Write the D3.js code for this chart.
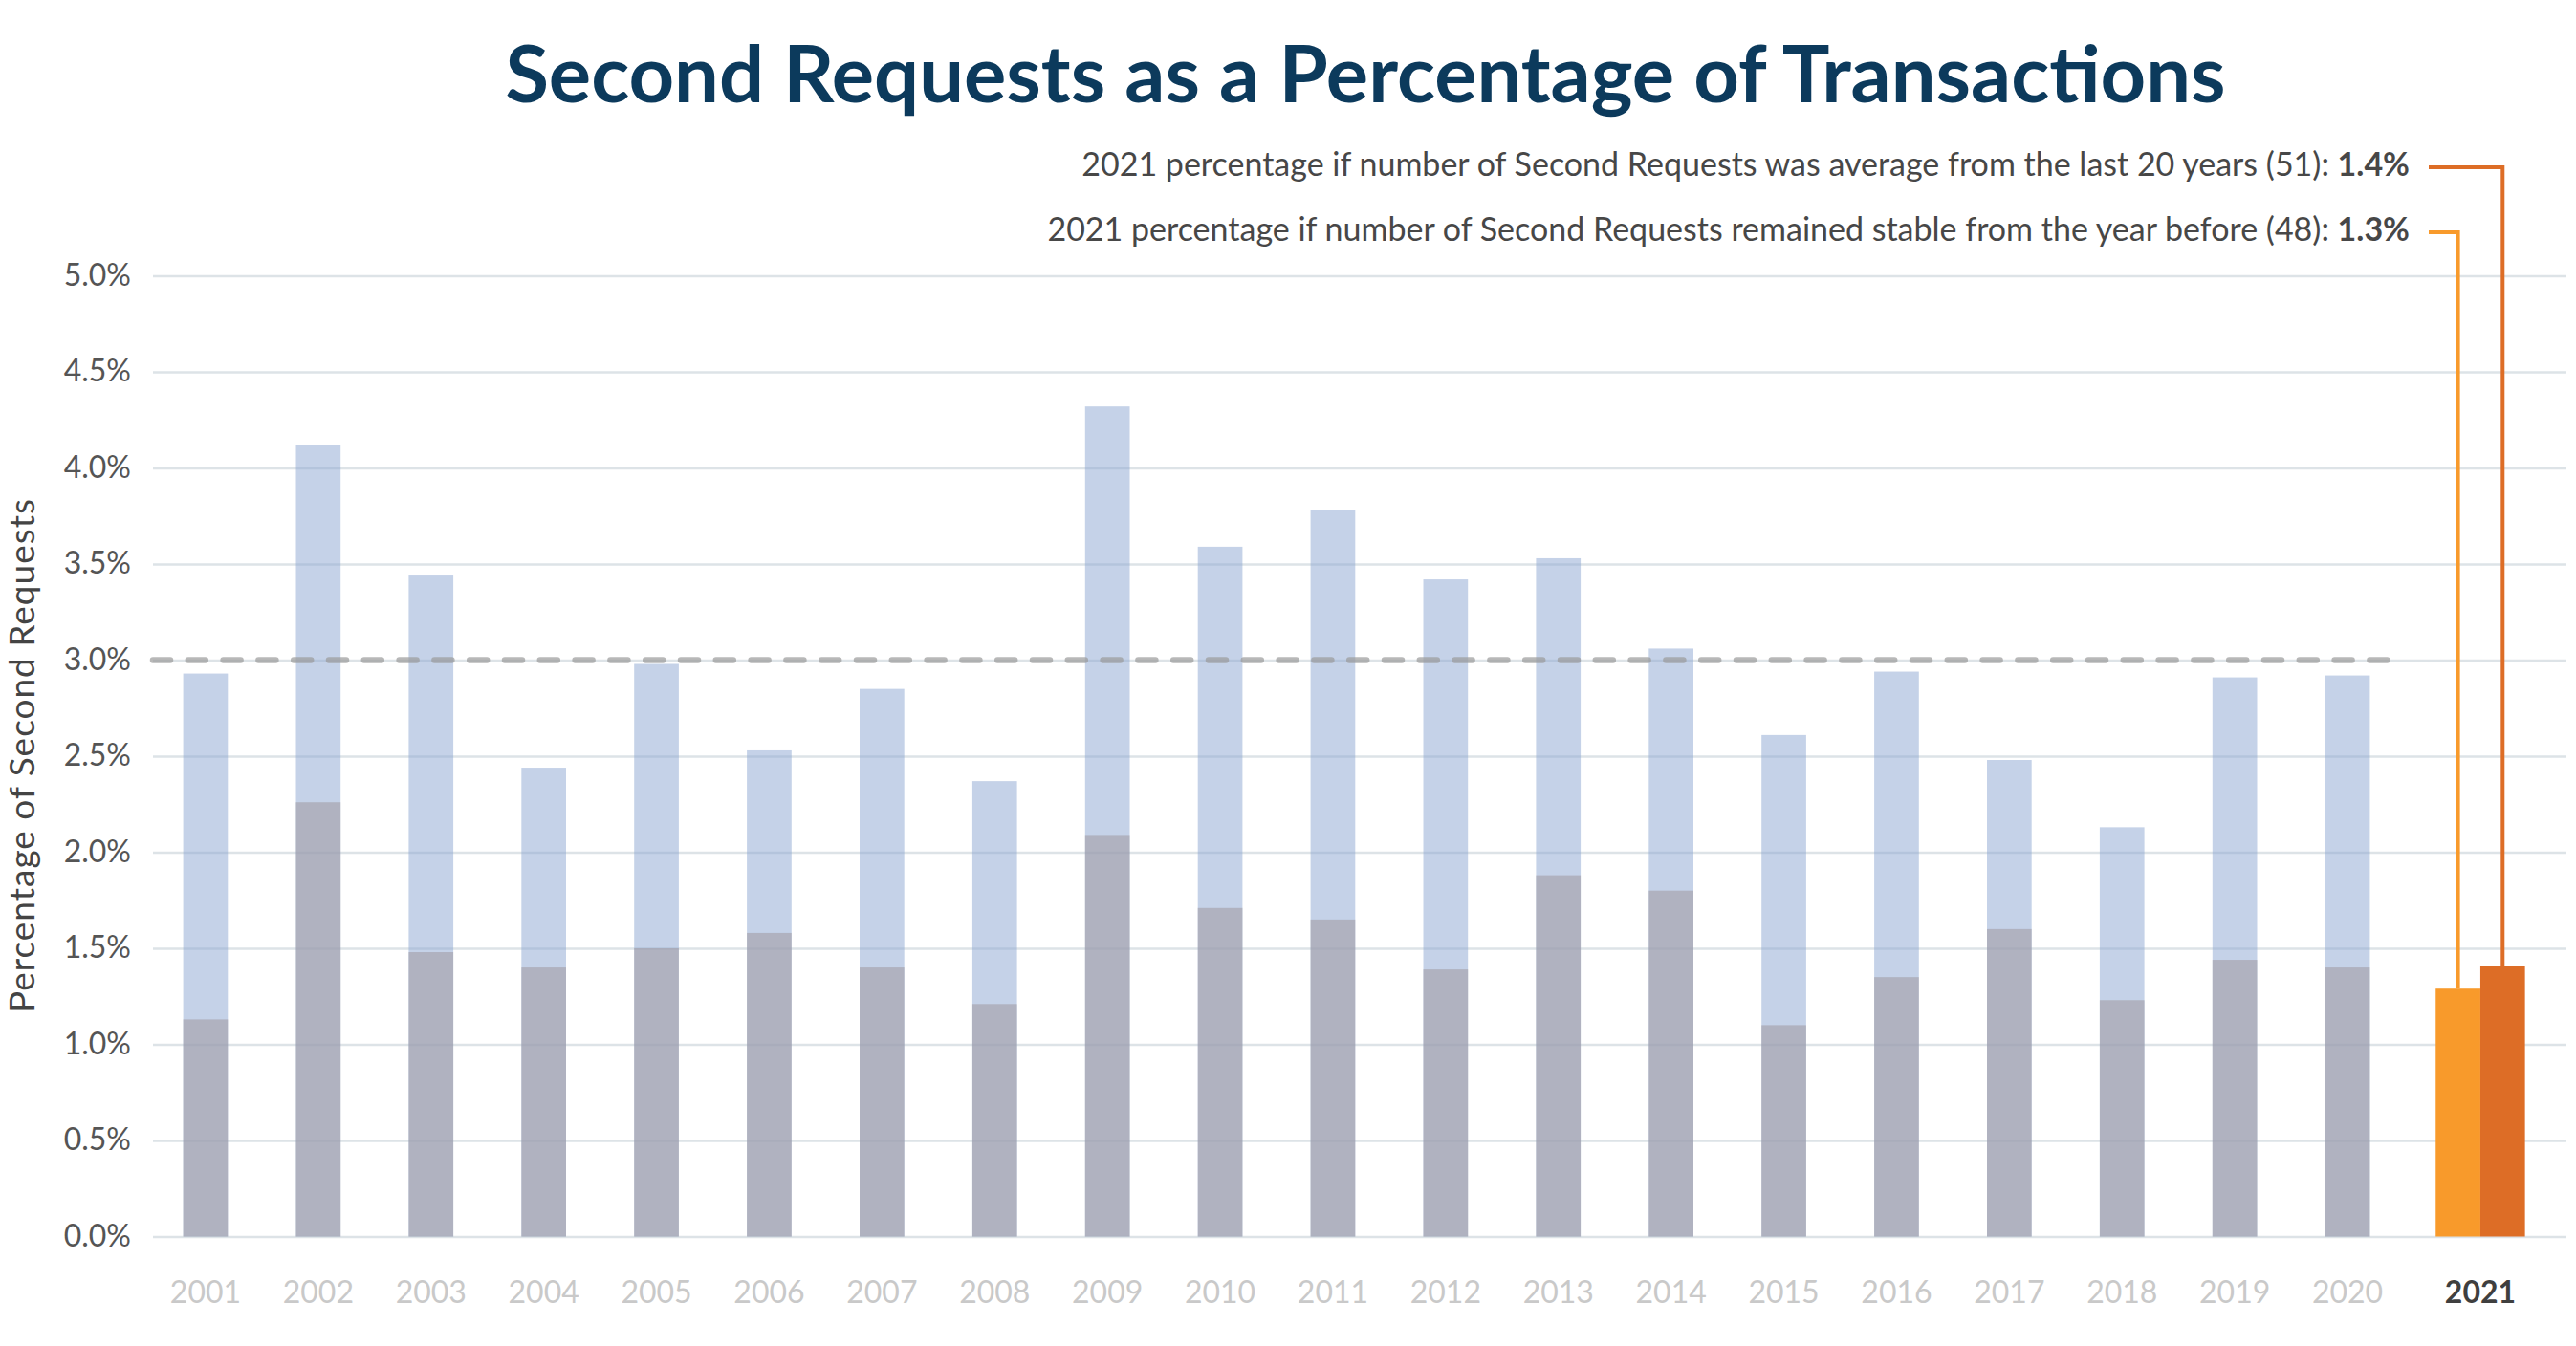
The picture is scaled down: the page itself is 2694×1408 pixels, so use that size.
<!DOCTYPE html>
<html>
<head>
<meta charset="utf-8">
<title>Second Requests as a Percentage of Transactions</title>
<script src="https://cdn.jsdelivr.net/npm/d3@7"></script>
<style>
  body { margin: 0; background: #fff; }
  text { font-family: Lato, "Open Sans", sans-serif; }
</style>
</head>
<body>
<script>
// values (percent)
var years = [2001, 2002, 2003, 2004, 2005, 2006, 2007, 2008, 2009, 2010,
             2011, 2012, 2013, 2014, 2015, 2016, 2017, 2018, 2019, 2020];
var lightPct = [2.93, 4.12, 3.44, 2.44, 2.98, 2.53, 2.85, 2.37, 4.32, 3.59,
                3.78, 3.42, 3.53, 3.06, 2.61, 2.94, 2.48, 2.13, 2.91, 2.92];
var darkPct  = [1.13, 2.26, 1.48, 1.40, 1.50, 1.58, 1.40, 1.21, 2.09, 1.71,
                1.65, 1.39, 1.88, 1.80, 1.10, 1.35, 1.60, 1.23, 1.44, 1.40];
var avgLine = 3.0;

var year2021 = 2021;
var pct2021 = [1.29, 1.41];              // stable (48), average (51)
var notes2021 = [
  "2021 percentage if number of Second Requests was average from the last 20 years (51): ",
  "2021 percentage if number of Second Requests remained stable from the year before (48): "
];
var notesBold = ["1.4%", "1.3%"];
var yTicks = [0, 0.5, 1, 1.5, 2, 2.5, 3, 3.5, 4, 4.5, 5];

var W = 2694, H = 1408;
var plotL = 160, plotR = 2684, plotT = 288.5, plotB = 1293.5;
var step = 117.9, shift2021 = 21;

var svg = d3.select("body").append("svg")
    .attr("width", W).attr("height", H);

var y = d3.scaleLinear().domain([0, 5]).range([plotB, plotT]);
var x = d3.scaleBand()
    .domain(years.concat([year2021]))
    .range([plotL - 4, plotL - 4 + step * 21])
    .paddingInner(0.604).paddingOuter(0.302);
var bw = x.bandwidth();
var c2021 = x(year2021) + bw / 2 + shift2021;

// title
svg.append("text")
    .attr("x", 1428).attr("y", 107)
    .attr("text-anchor", "middle")
    .style("font-size", "83px").style("font-weight", "bold")
    .style("fill", "#0c3a5c")
    .text("Second Requests as a Percentage of Transactions");

// grid
var grid = svg.append("g")
    .attr("transform", "translate(" + plotL + ",0)")
    .call(d3.axisLeft(y).tickValues(yTicks).tickSize(-(plotR - plotL)).tickFormat(""));
grid.select(".domain").remove();
grid.selectAll("line").style("stroke", "#dde3e7").style("stroke-width", 2.6);

// y labels
var yAxis = svg.append("g")
    .attr("transform", "translate(" + plotL + ",0)")
    .call(d3.axisLeft(y).tickValues(yTicks).tickSize(0).tickPadding(23)
          .tickFormat(function (d) { return d.toFixed(1) + "%"; }));
yAxis.select(".domain").remove();
yAxis.selectAll("text")
    .attr("dy", "0.3em")
    .style("font-family", "Lato, sans-serif")
    .style("font-size", "32px").style("fill", "#555");

svg.append("text")
    .attr("transform", "translate(36," + 790 + ") rotate(-90)")
    .attr("text-anchor", "middle")
    .style("font-size", "37px").style("letter-spacing", "1px").style("fill", "#444")
    .text("Percentage of Second Requests");

// bars
var rows = years.map(function (yr, i) { return { year: yr, light: lightPct[i], dark: darkPct[i] }; });

svg.append("g").selectAll("rect").data(rows).join("rect")
    .attr("x", function (d) { return x(d.year); })
    .attr("width", bw)
    .attr("y", function (d) { return y(d.light); })
    .attr("height", function (d) { return y(0) - y(d.light); })
    .style("fill", "#8ca5d1").style("fill-opacity", 0.5);

svg.append("g").selectAll("rect").data(rows).join("rect")
    .attr("x", function (d) { return x(d.year); })
    .attr("width", bw)
    .attr("y", function (d) { return y(d.dark); })
    .attr("height", function (d) { return y(0) - y(d.dark); })
    .style("fill", "#a19ca5").style("fill-opacity", 0.6);

// average line
svg.append("line")
    .attr("x1", plotL).attr("x2", x(years[years.length - 1]) + bw / 2 + step / 2 - 12)
    .attr("y1", y(avgLine)).attr("y2", y(avgLine))
    .style("stroke", "#9a9a9a").style("stroke-opacity", 0.7)
    .style("stroke-width", 6.5).style("stroke-linecap", "round")
    .style("stroke-dasharray", "18 18.8");

// 2021 bars
var orange = ["#f89a2b", "#dd6d26"];
svg.append("g").selectAll("rect").data(pct2021).join("rect")
    .attr("x", function (d, i) { return c2021 - bw + i * bw; })
    .attr("width", bw)
    .attr("y", function (d) { return y(d); })
    .attr("height", function (d) { return y(0) - y(d); })
    .style("fill", function (d, i) { return orange[i]; });

// x labels
var xAxis = svg.append("g")
    .attr("transform", "translate(0," + plotB + ")")
    .call(d3.axisBottom(x).tickSize(0).tickPadding(47));
xAxis.select(".domain").remove();
xAxis.selectAll("text")
    .style("font-family", "Lato, sans-serif")
    .style("font-size", "32px").style("fill", "#c9c9c9");
xAxis.selectAll(".tick").filter(function (d) { return d === year2021; })
    .attr("transform", "translate(" + c2021 + ",0)")
    .select("text").style("fill", "#3f3f3f").style("font-weight", "bold");

// annotations with leaders
var noteBase = [184, 252];
var noteBar = [1, 0];  // first note -> average bar, second -> stable bar
notes2021.forEach(function (txt, i) {
  var t = svg.append("text")
      .attr("x", 2520).attr("y", noteBase[i])
      .attr("text-anchor", "end")
      .style("font-size", "34px").style("fill", "#474747");
  t.append("tspan").text(txt);
  t.append("tspan").style("font-weight", "bold").text(notesBold[i]);

  var b = noteBar[i];
  var lx = c2021 - bw / 2 + b * bw;
  var ly = noteBase[i] - 9;
  svg.append("path")
      .attr("d", "M2540," + ly + "H" + lx + "V" + y(pct2021[b]))
      .style("fill", "none").style("stroke", orange[b]).style("stroke-width", 4);
});
</script>
</body>
</html>
